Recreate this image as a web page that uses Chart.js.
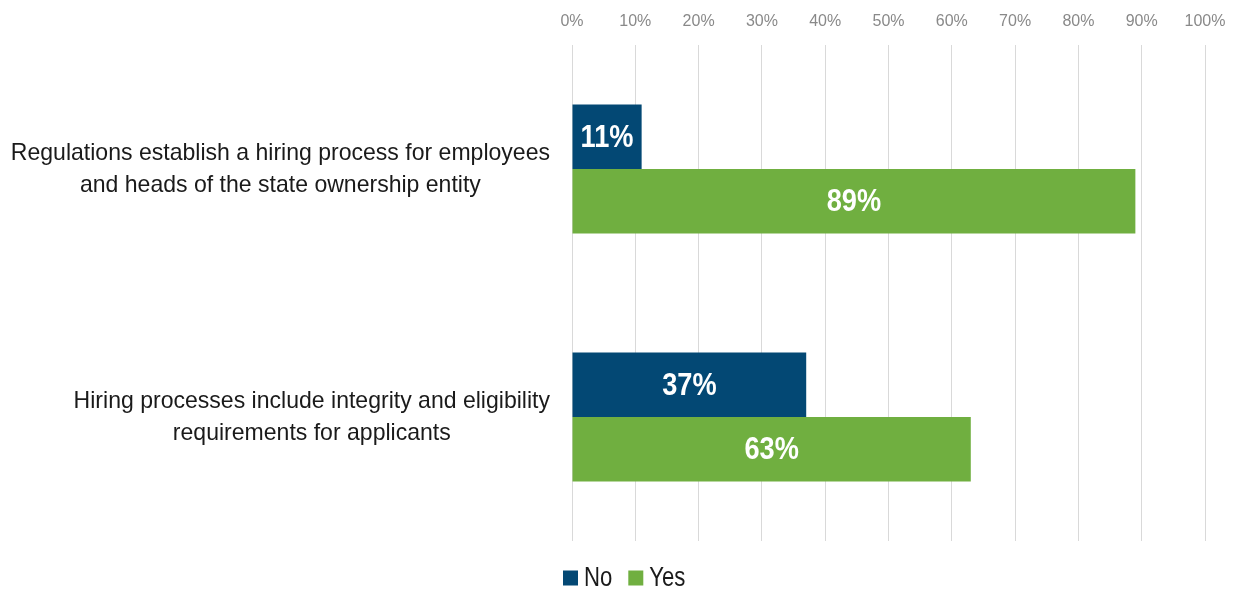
<!DOCTYPE html>
<html lang="en">
<head>
    <meta charset="UTF-8">
    <title>Hiring process regulations</title>
    <script src="https://cdn.jsdelivr.net/npm/chart.js"></script>
    <style>
        body {
            margin: 0;
            background: #fff;
        }
        #chartContainer {
            width: 1235px;
            height: 590px;
        }
    </style>
</head>
<body>
    <div id="chartContainer">
        <canvas id="hiringChart"></canvas>
    </div>

    <script>
        // categories (each label split into its two lines)
        const categories = [
            ['Regulations establish a hiring process for employees', 'and heads of the state ownership entity'],
            ['Hiring processes include integrity and eligibility', 'requirements for applicants']
        ];
        const noValues = [11, 37];
        const yesValues = [89, 63];
        const xTicks = [0, 10, 20, 30, 40, 50, 60, 70, 80, 90, 100];

        const sans = "Arial, 'Liberation Sans', sans-serif";

        // draws text squeezed horizontally around its anchor point
        function narrowText(ctx, text, x, y, squeeze) {
            ctx.save();
            ctx.translate(x, y);
            ctx.scale(squeeze, 1);
            ctx.fillText(text, 0, 0);
            ctx.restore();
        }

        // category text drawn right-aligned, each block's lines centred on each other
        const categoryLabels = {
            id: 'categoryLabels',
            afterDraw(chart) {
                const ctx = chart.ctx;
                const yScale = chart.scales.y;
                const right = chart.chartArea.left - 22;
                const lineHeight = 32;
                const squeeze = 0.96;
                ctx.save();
                ctx.font = '24px ' + sans;
                ctx.fillStyle = '#1a1a1a';
                ctx.textAlign = 'center';
                ctx.textBaseline = 'middle';
                categories.forEach((lines, i) => {
                    const blockWidth = Math.max(...lines.map(l => ctx.measureText(l).width)) * squeeze;
                    const cx = right - blockWidth / 2;
                    const cy = yScale.getPixelForValue(i);
                    lines.forEach((line, j) => {
                        narrowText(ctx, line, cx, cy + (j - (lines.length - 1) / 2) * lineHeight, squeeze);
                    });
                });
                ctx.restore();
            }
        };

        // value labels in the middle of each bar
        const barValues = {
            id: 'barValues',
            afterDatasetsDraw(chart) {
                const ctx = chart.ctx;
                ctx.save();
                ctx.font = 'bold 32px ' + sans;
                ctx.fillStyle = '#ffffff';
                ctx.textAlign = 'center';
                ctx.textBaseline = 'middle';
                chart.data.datasets.forEach((ds, di) => {
                    chart.getDatasetMeta(di).data.forEach((bar, i) => {
                        narrowText(ctx, ds.data[i] + '%', (bar.x + bar.base) / 2, bar.y + 1, 0.85);
                    });
                });
                ctx.restore();
            }
        };

        // legend under the plot: square swatch then the series name
        const bottomLegend = {
            id: 'bottomLegend',
            afterDraw(chart) {
                const ctx = chart.ctx;
                const box = 15;
                const y = 578;
                const squeeze = 0.82;
                let x = 563;
                ctx.save();
                ctx.font = '27px ' + sans;
                ctx.textAlign = 'left';
                ctx.textBaseline = 'middle';
                chart.data.datasets.forEach(ds => {
                    ctx.fillStyle = ds.backgroundColor;
                    ctx.fillRect(x, y - box / 2, box, box);
                    x += box + 6;
                    ctx.fillStyle = '#1a1a1a';
                    narrowText(ctx, ds.label, x, y + 1, squeeze);
                    x += ctx.measureText(ds.label).width * squeeze + 16;
                });
                ctx.restore();
            }
        };

        const ctx = document.getElementById('hiringChart').getContext('2d');
        new Chart(ctx, {
            type: 'bar',
            data: {
                labels: categories.map(c => c.join(' ')),
                datasets: [
                    {
                        label: 'No',
                        data: noValues,
                        backgroundColor: '#034874',
                        categoryPercentage: 0.52,
                        barPercentage: 1
                    },
                    {
                        label: 'Yes',
                        data: yesValues,
                        backgroundColor: '#70AF40',
                        categoryPercentage: 0.52,
                        barPercentage: 1
                    }
                ]
            },
            options: {
                indexAxis: 'y',
                responsive: true,
                maintainAspectRatio: false,
                animation: false,
                layout: {
                    padding: { left: 572, right: 30, top: 0, bottom: 49 }
                },
                scales: {
                    x: {
                        position: 'top',
                        min: 0,
                        max: 100,
                        afterBuildTicks(scale) {
                            scale.ticks = xTicks.map(v => ({ value: v }));
                        },
                        // fixed band for the top labels; "100%" may hang past the plot edge
                        afterFit(scale) {
                            scale.height = 45;
                            scale.paddingLeft = 0;
                            scale.paddingRight = 0;
                        },
                        ticks: {
                            callback: v => v + '%',
                            color: '#898989',
                            font: { family: sans, size: 16 },
                            padding: 14,
                            maxRotation: 0
                        },
                        grid: {
                            color: '#d9d9d9',
                            drawTicks: false
                        },
                        border: { display: false }
                    },
                    y: {
                        display: false
                    }
                },
                plugins: {
                    legend: { display: false },
                    tooltip: { enabled: false }
                }
            },
            plugins: [categoryLabels, barValues, bottomLegend]
        });
    </script>
</body>
</html>
